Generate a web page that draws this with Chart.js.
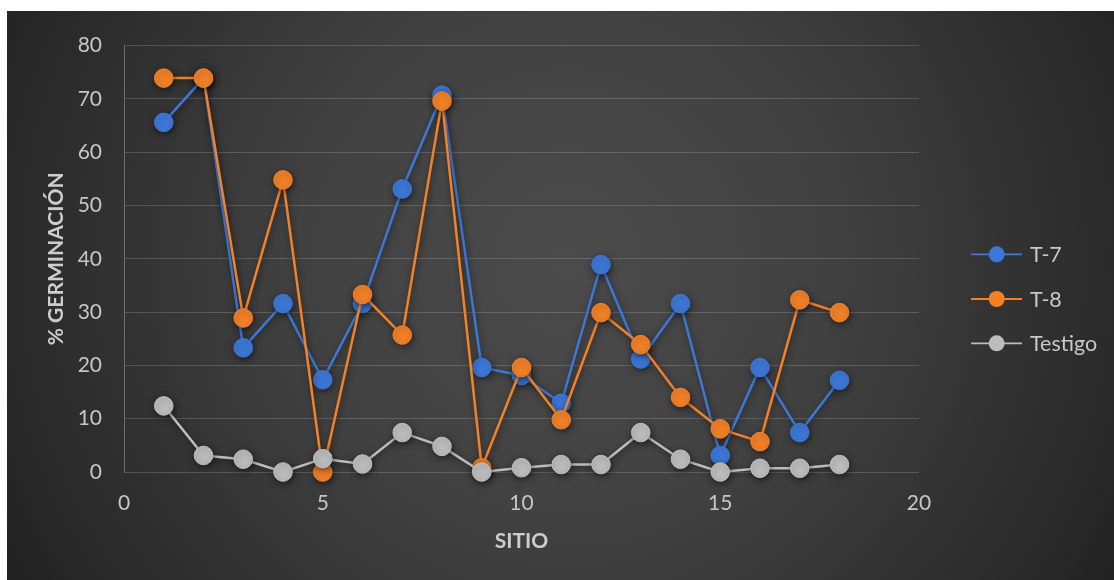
<!DOCTYPE html>
<html>
<head>
<meta charset="utf-8">
<script src="https://cdn.jsdelivr.net/npm/chart.js@4.4.1/dist/chart.umd.min.js"></script>
<style>
  html, body { margin: 0; padding: 0; background: #ffffff; width: 1114px; height: 580px; overflow: hidden; }
  #wrap { position: absolute; left: 7px; top: 11px; width: 1107px; height: 569px; }
  canvas { display: block; }
</style>
</head>
<body>
<div id="wrap"><canvas id="chart" width="1107" height="569"></canvas></div>
<script>
// Sampling sites and germination percentages per treatment
const sitio = [1, 2, 3, 4, 5, 6, 7, 8, 9, 10, 11, 12, 13, 14, 15, 16, 17, 18];
const t7 = [65.6, 73.9, 23.3, 31.6, 17.3, 31.6, 53.1, 70.7, 19.6, 18.1, 12.9, 38.9, 21.2, 31.6, 3.1, 19.6, 7.4, 17.2];
const t8 = [73.9, 73.9, 28.9, 54.8, 0.0, 33.3, 25.7, 69.6, 0.8, 19.6, 9.8, 29.9, 23.9, 14.0, 8.1, 5.7, 32.3, 29.9];
const testigo = [12.4, 3.1, 2.4, 0.0, 2.5, 1.5, 7.4, 4.8, 0.0, 0.8, 1.4, 1.4, 7.4, 2.4, 0.0, 0.7, 0.7, 1.4];

const seriesNames = ['T-7', 'T-8', 'Testigo'];
const seriesColors = ['#3d78d8', '#f28128', '#bdbdbd'];
const xTicks = [0, 5, 10, 15, 20];
const yTicks = [0, 10, 20, 30, 40, 50, 60, 70, 80];

const FONT = 'Lato, "Open Sans", sans-serif';
const toPoints = vals => sitio.map((s, i) => ({ x: s, y: vals[i] }));

// Radial dark backdrop behind the whole chart
const backdrop = {
  id: 'backdrop',
  beforeDraw(chart) {
    const { ctx, width, height } = chart;
    const g = ctx.createRadialGradient(560, 250, 0, 560, 250, 660);
    g.addColorStop(0, '#4b4b4b');
    g.addColorStop(0.4, '#414141');
    g.addColorStop(0.85, '#292929');
    g.addColorStop(1, '#202020');
    ctx.save();
    ctx.fillStyle = g;
    ctx.fillRect(0, 0, width, height);
    ctx.restore();
  }
};

// Soft drop shadow under lines and markers
const markShadow = {
  id: 'markShadow',
  beforeDatasetsDraw(chart) {
    const ctx = chart.ctx;
    ctx.save();
    ctx.shadowColor = 'rgba(0,0,0,0.5)';
    ctx.shadowBlur = 6;
    ctx.shadowOffsetX = 1;
    ctx.shadowOffsetY = 2;
  },
  afterDatasetsDraw(chart) {
    chart.ctx.restore();
  }
};

// Legend on the right: line with a round marker, then the series name
const sideLegend = {
  id: 'sideLegend',
  afterDraw(chart) {
    const ctx = chart.ctx;
    const rows = [243.3, 288, 332.3];
    ctx.save();
    chart.data.datasets.forEach((ds, i) => {
      const y = rows[i];
      ctx.strokeStyle = ds.borderColor;
      ctx.lineWidth = 1.8;
      ctx.beginPath();
      ctx.moveTo(964, y);
      ctx.lineTo(1015, y);
      ctx.stroke();
      ctx.fillStyle = ds.pointBackgroundColor;
      ctx.beginPath();
      ctx.arc(989.7, y, 8, 0, Math.PI * 2);
      ctx.fill();
      ctx.fillStyle = '#c8c8c8';
      ctx.font = '21.5px ' + FONT;
      ctx.textBaseline = 'middle';
      ctx.textAlign = 'left';
      ctx.fillText(ds.label, 1023, y + 1);
    });
    ctx.restore();
  }
};

const datasets = [t7, t8, testigo].map((vals, i) => ({
  label: seriesNames[i],
  data: toPoints(vals),
  borderColor: seriesColors[i],
  backgroundColor: seriesColors[i],
  pointBackgroundColor: seriesColors[i],
  pointBorderColor: seriesColors[i],
  borderWidth: 2.5,
  pointRadius: 9.3,
  pointBorderWidth: 1,
  tension: 0,
  clip: false,
  order: 3 - i
}));

new Chart(document.getElementById('chart'), {
  type: 'line',
  data: { datasets },
  options: {
    responsive: false,
    animation: false,
    devicePixelRatio: 1,
    layout: { padding: { left: 30, top: 28, right: 195, bottom: 18 } },
    plugins: { legend: { display: false }, tooltip: { enabled: false } },
    scales: {
      x: {
        type: 'linear',
        min: 0,
        max: 20,
        afterFit(scale) { scale.height = 90; },
        afterBuildTicks(scale) { scale.ticks = xTicks.map(v => ({ value: v })); },
        ticks: { color: '#c6c6c6', font: { family: FONT, size: 21 }, padding: 19 },
        grid: { display: false, drawTicks: false },
        border: { display: false },
        title: {
          display: true, text: 'SITIO', color: '#cdcdcd',
          font: { family: FONT, size: 21, weight: 'bold' },
          padding: { top: 0, bottom: 8 }
        }
      },
      y: {
        min: 0,
        max: 80,
        afterFit(scale) { scale.width = 87; },
        afterBuildTicks(scale) { scale.ticks = yTicks.map(v => ({ value: v })); },
        ticks: { color: '#c6c6c6', font: { family: FONT, size: 21 }, padding: 22 },
        grid: { color: 'rgba(255,255,255,0.17)', lineWidth: 1, drawTicks: false },
        border: { display: true, color: 'rgba(255,255,255,0.3)', width: 1 },
        title: {
          display: true, text: '% GERMINACIÓN', color: '#cdcdcd',
          font: { family: FONT, size: 21, weight: 'bold' },
          padding: { top: 7, bottom: 0 }
        }
      }
    }
  },
  plugins: [backdrop, markShadow, sideLegend]
});
</script>
</body>
</html>
